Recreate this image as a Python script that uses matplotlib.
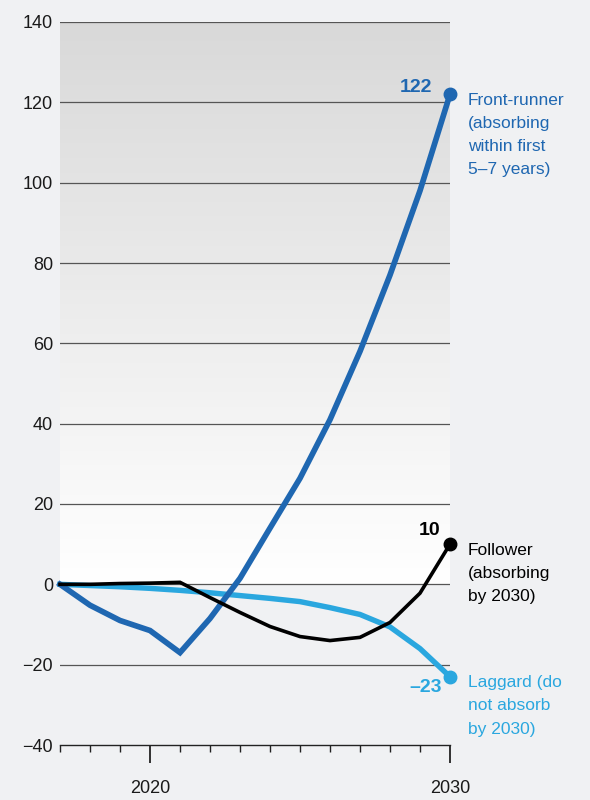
import numpy as np
import matplotlib.pyplot as plt

# values
years = list(range(2017, 2031))
front_runner = [0, -5.2, -9, -11.5, -17, -8.5, 1.5, 14, 26.4, 41, 58, 77, 98, 122]
follower = [0, 0, 0.2, 0.3, 0.5, -3.3, -7, -10.5, -13, -14, -13.2, -9.5, -2.2, 10]
laggard = [0, -0.3, -0.6, -1.0, -1.5, -2.1, -2.8, -3.5, -4.3, -5.8, -7.5, -10.6, -16, -23]

series_labels = ['Front-runner\n(absorbing\nwithin first\n5–7 years)',
                 'Follower\n(absorbing\nby 2030)',
                 'Laggard (do\nnot absorb\nby 2030)']
end_labels = ['122', '10', '–23']
colors = ['#1f67b1', '#000000', '#2aa7df']
yticks = list(range(-40, 141, 20))
xtick_labels = {2020: '2020', 2030: '2030'}

bg = '#f0f1f3'
plt.rcParams['font.family'] = ['Liberation Sans', 'DejaVu Sans']

fig = plt.figure(figsize=(5.9, 8), dpi=100, facecolor=bg)
ax = fig.add_axes([60/590, 1-745/800, 390/590, 723/800])
ax.set_facecolor(bg)

# gradient above zero
grad = np.linspace(1, 0, 256).reshape(-1, 1)
top = np.array([0.85, 0.85, 0.85])
img = np.ones((256, 1, 3)) * (1 - grad[..., None]) + top * grad[..., None]
ax.imshow(img, extent=[2017, 2030, 0, 140], aspect='auto', zorder=0)
ax.set_xlim(2017, 2030)
ax.set_ylim(-40, 140)

for y in yticks[1:]:
    ax.axhline(y, color='#555555', lw=0.9, zorder=1)

for s in ['top', 'right', 'left']:
    ax.spines[s].set_visible(False)
ax.spines['bottom'].set_color('#222222')
ax.spines['bottom'].set_linewidth(1.0)

widths = [4.1, 2.6, 3.9]
zs = [4, 5, 3]
for vals, c, w, z in zip([front_runner, follower, laggard], colors, widths, zs):
    ax.plot(years, vals, color=c, lw=w, solid_joinstyle='miter', zorder=z, clip_on=False)
    ax.plot(years[-1], vals[-1], 'o', color=c, ms=9, zorder=z + 1, clip_on=False)

# value labels at line ends
offsets = [(-13, 5), (-7, 10), (-6, -8)]
for vals, lab, c, off in zip([front_runner, follower, laggard], end_labels, colors, offsets):
    ax.annotate(lab, (years[-1], vals[-1]), xytext=off,
                textcoords='offset points', ha='right', va='center', color=c,
                fontsize=14, fontweight='bold', annotation_clip=False)

# series labels on the right
for vals, lab, c in zip([front_runner, follower, laggard], series_labels, colors):
    ax.annotate(lab, (years[-1], vals[-1]), xytext=(13, 1),
                textcoords='offset points', ha='left', va='top', color=c,
                fontsize=12.5, linespacing=1.68, annotation_clip=False)

ax.set_yticks(yticks)
ax.set_yticklabels([str(v).replace('-', '\u2212') for v in yticks], fontsize=13, color='#1a1a1a')
ax.tick_params(axis='y', length=0, pad=5)

ax.set_xticks(years)
ax.set_xticklabels([xtick_labels.get(y, '') for y in years], fontsize=13, color='#1a1a1a')
ax.tick_params(axis='x', direction='out', length=5, width=1, color='#222222', pad=20)
for y, t in zip(years, ax.xaxis.get_major_ticks()):
    if y in xtick_labels:
        t.tick1line.set_markersize(13)
        t.tick1line.set_markeredgewidth(1.3)

fig.savefig('out.png', dpi=100, facecolor=bg)
